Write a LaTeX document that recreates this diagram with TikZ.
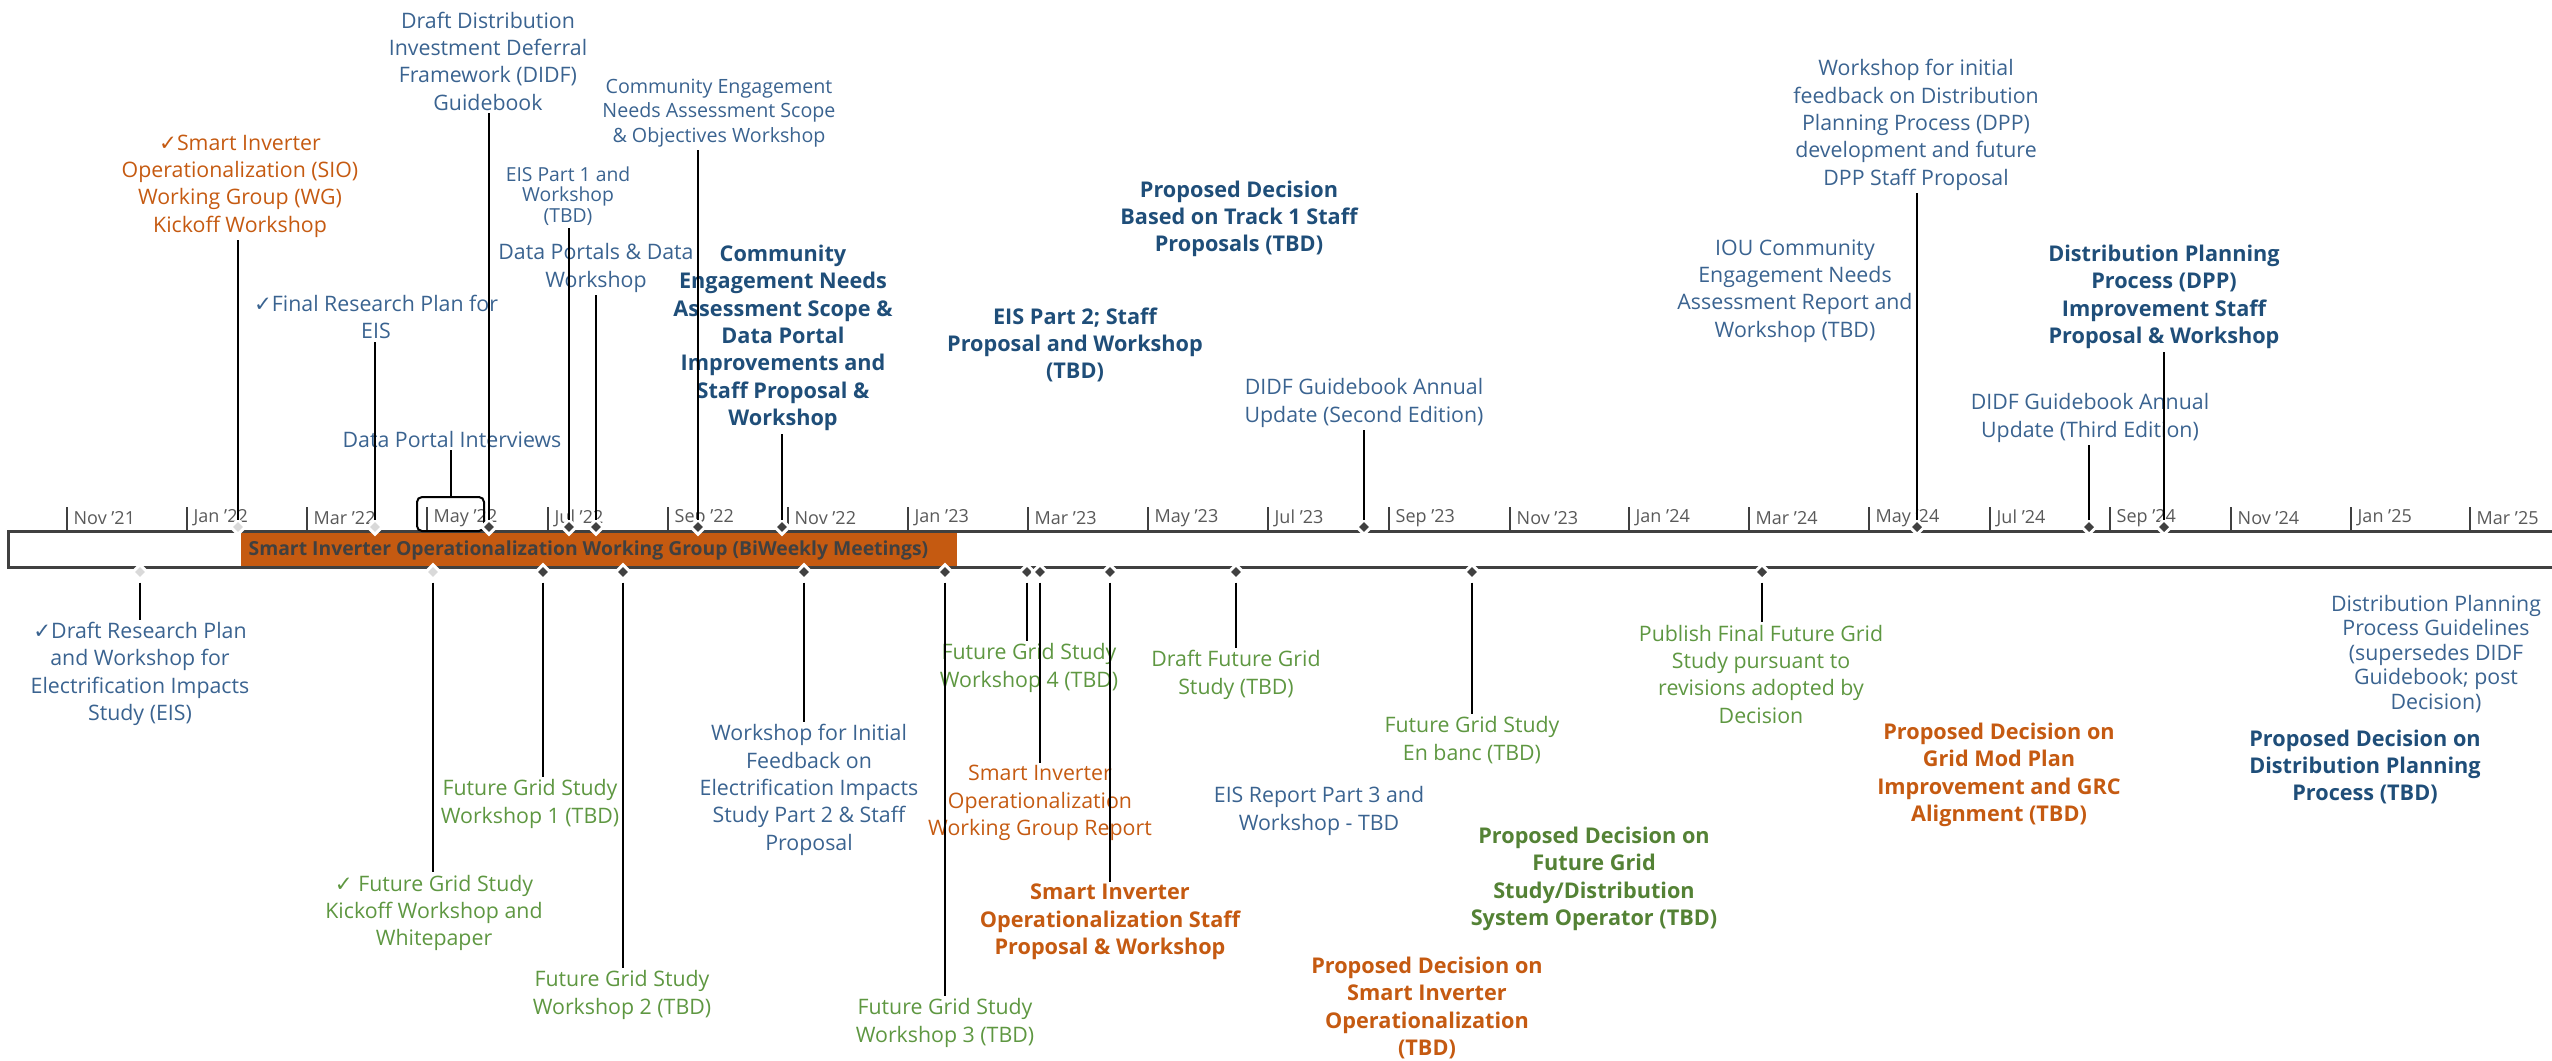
\documentclass[tikz,border=0pt]{standalone}
\usepackage{fontspec}
\setmainfont{Open Sans}
\newfontfamily\symfont{DejaVu Sans}
\usetikzlibrary{shapes.geometric}

\definecolor{tlgray}{HTML}{404040}
\definecolor{ltgray}{HTML}{D9D9D9}
\definecolor{mogray}{HTML}{595959}
\definecolor{sioorange}{HTML}{C55A11}
\definecolor{eisblue}{HTML}{3A6390}
\definecolor{navy}{HTML}{1F4E79}
\definecolor{fggreen}{HTML}{5E9741}
\definecolor{fgdark}{HTML}{548235}

\newcommand{\chk}{{\symfont ✓}}

\tikzset{
  tl/.style={draw=tlgray, line width=0.9pt},
  tick/.style={draw=tlgray, line width=0.6pt},
  month/.style={anchor=west, inner sep=0pt, text=mogray, font=\fontsize{5.4}{6}\selectfont},
  dk/.style={diamond, fill=tlgray, draw=white, line width=0.9pt, inner sep=0pt, outer sep=0pt, minimum width=4.4pt, minimum height=4.4pt},
  lt/.style={dk, fill=ltgray},
  txt/.style={align=center, inner sep=0.6pt, font=\fontsize{6.4}{8.2}\selectfont},
  txtb/.style={txt, font=\fontsize{6.5}{8.2}\selectfont\bfseries},
  stem/.style={draw=black, line width=0.6pt}
}

\begin{document}
\begin{tikzpicture}[x=0.3pt, y=-0.3pt]
\useasboundingbox (0,0) rectangle (2552,1060);

% working group bar
\fill[sioorange] (241,533) rectangle (957,567);
\node[anchor=west, inner sep=0pt, text=tlgray, font=\fontsize{5.8}{6}\selectfont\bfseries] (siowg) at (248,550) {Smart Inverter Operationalization Working Group (BiWeekly Meetings)};

% timeline
\draw[tl] (2552,531) -- (8,531) -- (8,567) -- (2552,567);

% months
\draw[tick] (67,507) -- (67,531);     \node[month] (nov21) at (73,518) {Nov '21};
\draw[tick] (187,507) -- (187,531);   \node[month] (jan22) at (193,518) {Jan '22};
\draw[tick] (307,507) -- (307,531);   \node[month] (mar22) at (313,518) {Mar '22};
\draw[tick] (427,507) -- (427,531);   \node[month] (may22) at (433,518) {May '22};
\draw[tick] (548,507) -- (548,531);   \node[month] (jul22) at (554,518) {Jul '22};
\draw[tick] (668,507) -- (668,531);   \node[month] (sep22) at (674,518) {Sep '22};
\draw[tick] (788,507) -- (788,531);   \node[month] (nov22) at (794,518) {Nov '22};
\draw[tick] (908,507) -- (908,531);   \node[month] (jan23) at (914,518) {Jan '23};
\draw[tick] (1028,507) -- (1028,531); \node[month] (mar23) at (1034,518) {Mar '23};
\draw[tick] (1148,507) -- (1148,531); \node[month] (may23) at (1154,518) {May '23};
\draw[tick] (1268,507) -- (1268,531); \node[month] (jul23) at (1274,518) {Jul '23};
\draw[tick] (1389,507) -- (1389,531); \node[month] (sep23) at (1395,518) {Sep '23};
\draw[tick] (1510,507) -- (1510,531); \node[month] (nov23) at (1516,518) {Nov '23};
\draw[tick] (1629,507) -- (1629,531); \node[month] (jan24) at (1635,518) {Jan '24};
\draw[tick] (1749,507) -- (1749,531); \node[month] (mar24) at (1755,518) {Mar '24};
\draw[tick] (1869,507) -- (1869,531); \node[month] (may24) at (1875,518) {May '24};
\draw[tick] (1990,507) -- (1990,531); \node[month] (jul24) at (1996,518) {Jul '24};
\draw[tick] (2110,507) -- (2110,531); \node[month] (sep24) at (2116,518) {Sep '24};
\draw[tick] (2231,507) -- (2231,531); \node[month] (nov24) at (2237,518) {Nov '24};
\draw[tick] (2351,507) -- (2351,531); \node[month] (jan25) at (2357,518) {Jan '25};
\draw[tick] (2470,507) -- (2470,531); \node[month] (mar25) at (2476,518) {Mar '25};

% data portal interviews range
\node[draw=black, line width=0.6pt, rounded corners=1.5pt, inner sep=0pt, minimum width=20.1pt, minimum height=10.2pt] (dpibox) at (450.5,514) {};

% milestones above
\node[lt] (m-kick) at (238,527) {};
\node[lt] (m-frp) at (375,527) {};
\node[dk] (m-didf) at (489,527) {};
\node[dk] (m-eis1) at (569,527) {};
\node[dk] (m-dpw) at (596,527) {};
\node[dk] (m-cens) at (698,527) {};
\node[dk] (m-cenp) at (782,527) {};
\node[dk] (m-didf2) at (1364,527) {};
\node[dk] (m-dppw) at (1917,527) {};
\node[dk] (m-didf3) at (2089,527) {};
\node[dk] (m-dppi) at (2164,527) {};

% milestones below
\node[lt] (m-drp) at (140,572) {};
\node[lt] (m-fgk) at (433,572) {};
\node[dk] (m-fg1) at (543,572) {};
\node[dk] (m-fg2) at (623,572) {};
\node[dk] (m-eisf) at (804,572) {};
\node[dk] (m-fg3) at (945,572) {};
\node[dk] (m-fg4) at (1027,572) {};
\node[dk] (m-siorep) at (1040,572) {};
\node[dk] (m-siosp) at (1110,572) {};
\node[dk] (m-dfg) at (1236,572) {};
\node[dk] (m-enbanc) at (1472,572) {};
\node[dk] (m-pub) at (1762,572) {};

% labels above
\node[txt, text=sioorange] (t-kick) at (240,186) {\chk Smart Inverter\\Operationalization (SIO)\\Working Group (WG)\\Kickoff Workshop};
\node[txt, text=eisblue] (t-frp) at (376,317) {\chk Final Research Plan for\\EIS};
\node[txt, text=eisblue] (t-dpi) at (452,439) {Data Portal Interviews};
\node[txt, text=eisblue] (t-didf) at (488,61) {Draft Distribution\\Investment Deferral\\Framework (DIDF)\\Guidebook};
\node[txt, text=eisblue, font=\fontsize{5.8}{6.1}\selectfont] (t-eis1) at (568,196) {EIS Part 1 and\\Workshop\\(TBD)};
\node[txt, text=eisblue] (t-dpw) at (596,268) {Data Portals \& Data\\Workshop};
\node[txt, text=eisblue, font=\fontsize{5.9}{7.35}\selectfont] (t-cens) at (719,113) {Community Engagement\\Needs Assessment Scope\\\& Objectives Workshop};
\node[txtb, text=navy] (t-cenp) at (783,338) {Community\\Engagement Needs\\Assessment Scope \&\\Data Portal\\Improvements and\\Staff Proposal \&\\Workshop};
\node[txtb, text=navy] (t-eis2) at (1075,345) {EIS Part 2; Staff\\Proposal and Workshop\\(TBD)};
\node[txtb, text=navy] (t-pdt1) at (1239,219) {Proposed Decision\\Based on Track 1 Staff\\Proposals (TBD)};
\node[txt, text=eisblue] (t-didf2) at (1364,403) {DIDF Guidebook Annual\\Update (Second Edition)};
\node[txt, text=eisblue] (t-iou) at (1795,291) {IOU Community\\Engagement Needs\\Assessment Report and\\Workshop (TBD)};
\node[txt, text=eisblue] (t-dppw) at (1916,125) {Workshop for initial\\feedback on Distribution\\Planning Process (DPP)\\development and future\\DPP Staff Proposal};
\node[txt, text=eisblue] (t-didf3) at (2090,418) {DIDF Guidebook Annual\\Update (Third Edition)};
\node[txtb, text=navy] (t-dppi) at (2164,297) {Distribution Planning\\Process (DPP)\\Improvement Staff\\Proposal \& Workshop};

% labels below
\node[txt, text=eisblue] (t-drp) at (140,674) {\chk Draft Research Plan\\and Workshop for\\Electrification Impacts\\Study (EIS)};
\node[txt, text=fggreen] (t-fgk) at (434,913) {\chk\ Future Grid Study\\Kickoff Workshop and\\Whitepaper};
\node[txt, text=fggreen] (t-fg1) at (530,804) {Future Grid Study\\Workshop 1 (TBD)};
\node[txt, text=fggreen] (t-fg2) at (622,995) {Future Grid Study\\Workshop 2 (TBD)};
\node[txt, text=eisblue] (t-eisf) at (809,790) {Workshop for Initial\\Feedback on\\Electrification Impacts\\Study Part 2 \& Staff\\Proposal};
\node[txt, text=fggreen] (t-fg3) at (945,1023) {Future Grid Study\\Workshop 3 (TBD)};
\node[txt, text=fggreen] (t-fg4) at (1029,668) {Future Grid Study\\Workshop 4 (TBD)};
\node[txt, text=sioorange] (t-siorep) at (1040,803) {Smart Inverter\\Operationalization\\Working Group Report};
\node[txtb, text=sioorange] (t-siosp) at (1110,922) {Smart Inverter\\Operationalization Staff\\Proposal \& Workshop};
\node[txt, text=fggreen] (t-dfg) at (1236,675) {Draft Future Grid\\Study (TBD)};
\node[txt, text=eisblue] (t-eis3) at (1319,811) {EIS Report Part 3 and\\Workshop - TBD};
\node[txt, text=fggreen] (t-enbanc) at (1472,740) {Future Grid Study\\En banc (TBD)};
\node[txtb, text=sioorange] (t-pdsio) at (1427,1008) {Proposed Decision on\\Smart Inverter\\Operationalization\\(TBD)};
\node[txtb, text=fgdark] (t-pdfg) at (1594,879) {Proposed Decision on\\Future Grid\\Study/Distribution\\System Operator (TBD)};
\node[txt, text=fggreen] (t-pub) at (1761,674) {Publish Final Future Grid\\Study pursuant to\\revisions adopted by\\Decision};
\node[txtb, text=sioorange] (t-pdgm) at (1999,775) {Proposed Decision on\\Grid Mod Plan\\Improvement and GRC\\Alignment (TBD)};
\node[txtb, text=navy] (t-pddpp) at (2365,767) {Proposed Decision on\\Distribution Planning\\Process (TBD)};
\node[txt, text=eisblue, font=\fontsize{6.4}{7.35}\selectfont] (t-dppg) at (2436,654) {Distribution Planning\\Process Guidelines\\(supersedes DIDF\\Guidebook; post\\Decision)};

% stems above
\draw[stem] (m-kick.north) -- (m-kick |- t-kick.south);
\draw[stem] (m-frp.north) -- (m-frp |- t-frp.south);
\draw[stem] (dpibox.north) -- (dpibox |- t-dpi.south);
\draw[stem] (m-didf.north) -- (m-didf |- t-didf.south);
\draw[stem] (m-eis1.north) -- (m-eis1 |- t-eis1.south);
\draw[stem] (m-dpw.north) -- (m-dpw |- t-dpw.south);
\draw[stem] (m-cens.north) -- (m-cens |- t-cens.south);
\draw[stem] (m-cenp.north) -- (m-cenp |- t-cenp.south);
\draw[stem] (m-didf2.north) -- (m-didf2 |- t-didf2.south);
\draw[stem] (m-dppw.north) -- (m-dppw |- t-dppw.south);
\draw[stem] (m-didf3.north) -- (m-didf3 |- t-didf3.south);
\draw[stem] (m-dppi.north) -- (m-dppi |- t-dppi.south);

% stems below
\draw[stem, shorten <=1pt] (m-drp.south) -- (m-drp |- t-drp.north);
\draw[stem, shorten <=1pt] (m-fgk.south) -- (m-fgk |- t-fgk.north);
\draw[stem, shorten <=1pt] (m-fg1.south) -- (m-fg1 |- t-fg1.north);
\draw[stem, shorten <=1pt] (m-fg2.south) -- (m-fg2 |- t-fg2.north);
\draw[stem, shorten <=1pt] (m-eisf.south) -- (m-eisf |- t-eisf.north);
\draw[stem, shorten <=1pt] (m-fg3.south) -- (m-fg3 |- t-fg3.north);
\draw[stem, shorten <=1pt] (m-fg4.south) -- (m-fg4 |- t-fg4.north);
\draw[stem, shorten <=1pt] (m-siorep.south) -- (m-siorep |- t-siorep.north);
\draw[stem, shorten <=1pt] (m-siosp.south) -- (m-siosp |- t-siosp.north);
\draw[stem, shorten <=1pt] (m-dfg.south) -- (m-dfg |- t-dfg.north);
\draw[stem, shorten <=1pt] (m-enbanc.south) -- (m-enbanc |- t-enbanc.north);
\draw[stem, shorten <=1pt] (m-pub.south) -- (m-pub |- t-pub.north);

\end{tikzpicture}
\end{document}
